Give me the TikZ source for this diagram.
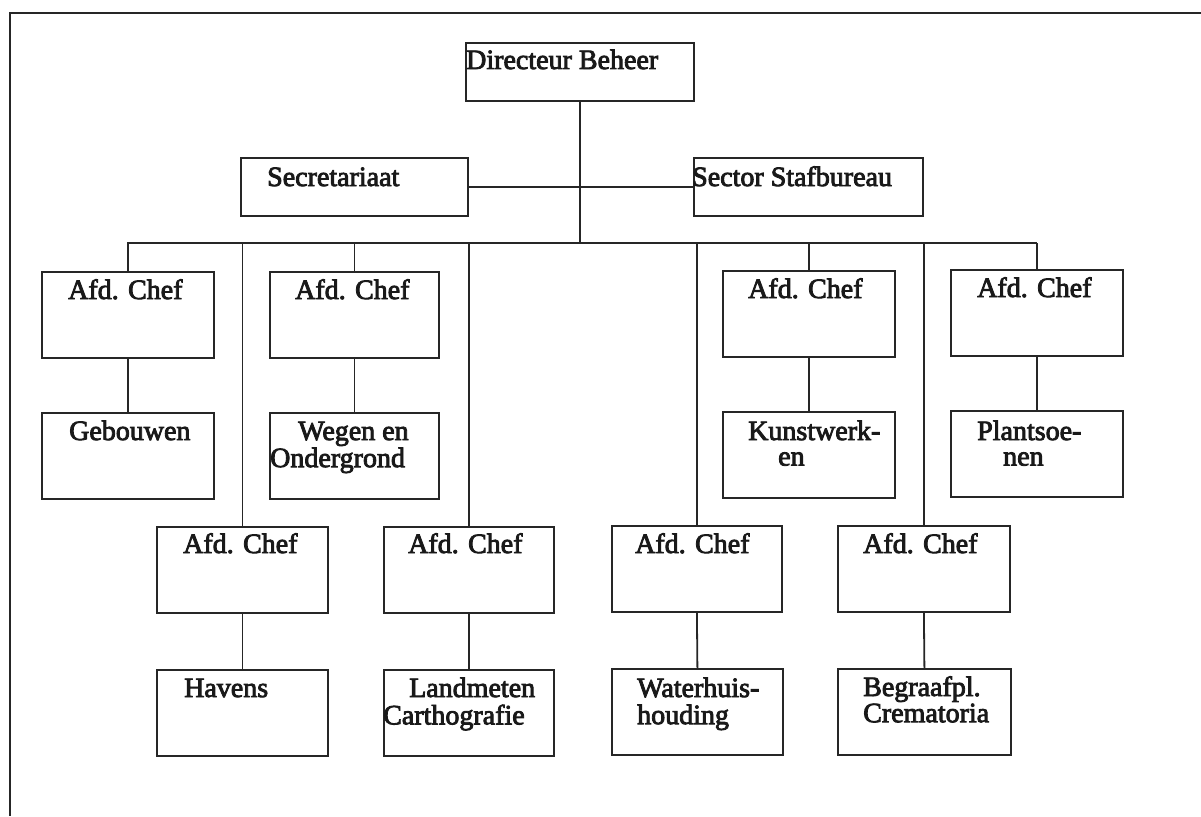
\documentclass[tikz,border=0pt]{standalone}
\usepackage{fontspec}
\setmainfont{Liberation Serif}
\newfontfamily\orgfont{Liberation Serif}[FakeBold=3]
% stacked lines of one label, baseline on the first line
\newcommand\orglines[1]{\begin{tabular}[t]{@{}l@{}}#1\end{tabular}}
\begin{document}
\begin{tikzpicture}[x=1pt,y=-1pt,
  box/.style={draw=black!85,line width=1.8pt,anchor=north west,inner sep=0pt,
              minimum width=172pt,minimum height=86pt},
  wide/.style={box,minimum height=58pt},
  lbl/.style={anchor=base west,inner sep=0pt,text=black!90,
              font=\orgfont\fontsize{28}{25.5}\selectfont},
  link/.style={draw=black!85,line width=1.8pt}]
\useasboundingbox (0,0) rectangle (1201,816);

% outer frame (top and left sides)
\coordinate (frTL) at (10,13);
\coordinate (frTR) at (1201,13);
\coordinate (frBL) at (10,816);
\draw[black!85,line width=2.6pt] (frTR) -- (frTL) -- (frBL);

% management level
\node[wide,minimum width=228pt] (dir) at (465,42) {};
\node[wide,minimum width=227pt] (sec) at (240,157) {};
\node[wide,minimum width=229pt] (staf) at (693,157) {};
\node[lbl] (tdir)  at (466,69)  {Directeur Beheer};
\node[lbl] (tsec)  at (267,186) {Secretariaat};
\node[lbl] (tstaf) at (692,186) {Sector Stafbureau};

% upper row of departments
\node[box] (c1) at (41,271)  {};
\node[box,minimum width=169pt] (c2) at (269,271) {};
\node[box] (c3) at (722,270) {};
\node[box] (c4) at (950,269) {};
\node[box] (d1) at (41,412)  {};
\node[box,minimum width=169pt] (d2) at (269,412) {};
\node[box] (d3) at (722,411) {};
\node[box] (d4) at (950,410) {};

% lower row of departments
\node[box,minimum width=171pt] (c5) at (156,526) {};
\node[box,minimum width=170pt] (c6) at (383,526) {};
\node[box,minimum width=170pt] (c7) at (611,525) {};
\node[box] (c8) at (837,525) {};
\node[box,minimum width=171pt] (d5) at (156,669) {};
\node[box,minimum width=170pt] (d6) at (383,669) {};
\node[box,minimum width=171pt] (d7) at (611,668) {};
\node[box,minimum width=173pt] (d8) at (837,668) {};

% labels
\node[lbl] (tc1) at (68,299)  {Afd. Chef};
\node[lbl] (tc2) at (295,299) {Afd. Chef};
\node[lbl] (tc3) at (748,298) {Afd. Chef};
\node[lbl] (tc4) at (977,297) {Afd. Chef};
\node[lbl] (tc5) at (183,553) {Afd. Chef};
\node[lbl] (tc6) at (408,553) {Afd. Chef};
\node[lbl] (tc7) at (635,553) {Afd. Chef};
\node[lbl] (tc8) at (863,553) {Afd. Chef};

\node[lbl] (td1) at (69,440)  {Gebouwen};
\node[lbl] (td2) at (270,440) {\orglines{\hspace*{28pt}Wegen en\\Ondergrond}};
\node[lbl] (td3) at (748,440) {\orglines{Kunstwerk-\\\hspace*{30pt}en}};
\node[lbl] (td4) at (977,440) {\orglines{Plantsoe-\\\hspace*{26pt}nen}};
\node[lbl] (td5) at (184,697) {Havens};
\node[lbl] (td6) at (383,697) {\orglines{\hspace*{26pt}Landmeten\\Carthografie}};
\node[lbl] (td7) at (637,697) {\orglines{Waterhuis-\\houding}};
\node[lbl] (td8) at (863,696) {\orglines{Begraafpl.\\Crematoria}};

% connectors
\coordinate (busL) at (127,243);
\coordinate (busR) at (1037,243);
\draw[link] (dir.south) -- (dir.south |- busL);
\draw[link] (sec.east) -- (staf.west);
\draw[link] (busL) -- (busR);
\foreach \c in {c1,c2,c3,c4,c5,c6,c7,c8}
  \draw[link] (\c.north) -- (\c.north |- busL);
\foreach \c/\d in {c1/d1,c2/d2,c3/d3,c4/d4,c5/d5,c6/d6,c7/d7,c8/d8}
  \draw[link] (\c.south) -- (\d.north);
\end{tikzpicture}
\end{document}
